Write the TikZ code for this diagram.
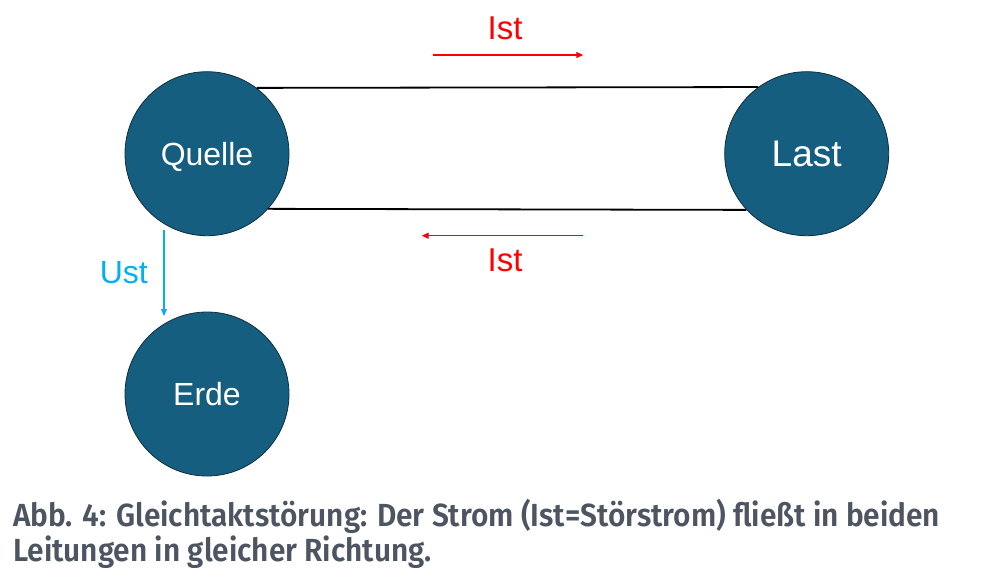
\documentclass[tikz,border=0pt]{standalone}
\usepackage{fontspec}
\usepackage{graphicx}
\setmainfont{Liberation Sans}
\newfontfamily\capfont{Fira Sans SemiBold}
\usetikzlibrary{arrows.meta}
\definecolor{nodeblue}{HTML}{165E80}
\definecolor{nodeedge}{HTML}{0E2E3E}
\definecolor{istred}{HTML}{FF0000}
\definecolor{ustcyan}{HTML}{00B0F0}
\definecolor{capgrey}{HTML}{4D5562}
\tikzset{
  ball/.style={circle, minimum size=164pt, inner sep=0pt, fill=nodeblue, draw=nodeedge, line width=0.8pt, text=white, text depth=0pt},
  wire/.style={line width=1.8pt, black},
  istarrow/.style={line width=1.2pt, istred, -{Triangle[length=7pt,width=6pt]}},
  ustarrow/.style={line width=1.2pt, ustcyan, -{Triangle[length=7pt,width=6pt]}},
  lbl/.style={inner sep=0pt, font=\fontsize{33pt}{36pt}\selectfont}
}
\begin{document}
\begin{tikzpicture}[x=1pt,y=-1pt]
\useasboundingbox (0,0) rectangle (1000,581);
\node[ball, font=\fontsize{32pt}{36pt}\selectfont] (Q) at (207,153.7) {Quelle};
\node[ball, font=\fontsize{37pt}{40pt}\selectfont] (L) at (806.7,153.7) {Last};
\node[ball, font=\fontsize{32pt}{36pt}\selectfont] (E) at (207,394) {Erde};
\draw[wire] (Q.53.6) -- (L.126.4);
\draw[wire] (Q.-42.4) -- (L.-137.6);
\coordinate (t1) at (432.7,55);
\coordinate (t2) at (583.3,55);
\coordinate (b1) at (583.3,235.7);
\coordinate (b2) at (421.7,235.7);
\coordinate (u1) at (164,230);
\coordinate (u2) at (164,316);
\draw[istarrow] (t1) -- (t2);
\draw[istarrow] (b1) -- (b2);
\draw[ustarrow] (u1) -- (u2);
\node[lbl, text=istred] (ist1) at (505,28) {Ist};
\node[lbl, text=istred] (ist2) at (505,260) {Ist};
\node[lbl, text=ustcyan, anchor=east, font=\fontsize{32pt}{36pt}\selectfont] (ust) at (148,273) {Ust};
\node[inner sep=0pt, anchor=base west, text=capgrey] (cap) at (13,526)
  {\resizebox{927pt}{\height}{\capfont\fontsize{32pt}{33pt}\selectfont\begin{tabular}[t]{@{}l@{}}Abb. 4: Gleichtaktstörung: Der Strom (Ist=Störstrom) fließt in beiden\\Leitungen in gleicher Richtung.\end{tabular}}};
\end{tikzpicture}
\end{document}
